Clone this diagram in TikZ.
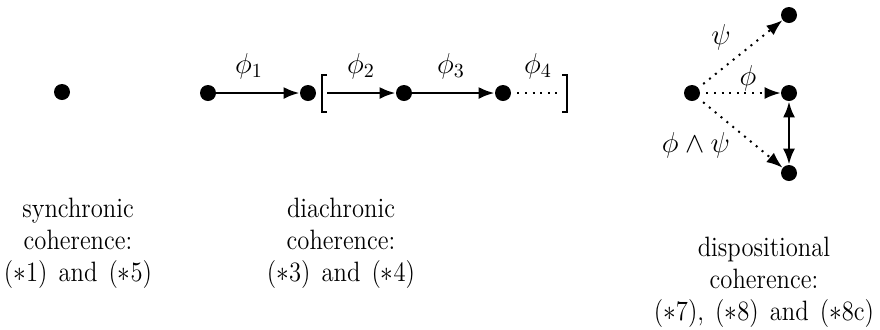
\documentclass[tikz,border=0pt]{standalone}
\usepackage{tikz}
\usetikzlibrary{arrows.meta,positioning}

\newcommand\capfont{\fontsize{14}{16}\selectfont\spaceskip=0.45em plus 0.1em\relax}

\begin{document}
\begin{tikzpicture}[
  x=0.5pt, y=-0.5pt,
  font=\fontsize{14}{16}\selectfont,
  pt/.style={circle,fill=black,inner sep=0pt,minimum size=8pt},
  arr/.style={-{Latex[length=8pt,width=6pt]},line width=1.35pt},
  dotarr/.style={-{Latex[length=8pt,width=6pt]},line width=1pt,dash pattern=on 1pt off 2.8pt,shorten <=3pt},
  dotln/.style={line width=1pt,dash pattern=on 1pt off 2.8pt,shorten <=3pt},
  brk/.style={line width=1.2pt},
  lbl/.style={inner sep=0pt},
  txt/.style={align=center,anchor=north,inner sep=0pt,xscale=0.88,transform shape,font=\capfont}
]
  \useasboundingbox (0,0) rectangle (880,329);

  % synchronic
  \node[pt] (syn) at (62,92) {};

  % diachronic chain
  \node[pt] (a) at (208,93) {};
  \node[pt] (b) at (308,93) {};
  \node[pt] (c) at (404,93) {};
  \node[pt] (d) at (503,93) {};
  \coordinate (lb) at (327,93);
  \coordinate (rb) at (562,93);
  \draw[brk] (327,75) -| (322,112) -- (327,112);
  \draw[brk] (562,75) -| (567,112) -- (562,112);

  \draw[arr] (a) -- (b);
  \draw[arr] (lb) -- (c);
  \draw[arr] (c) -- (d);
  \draw[dotln] (d) -- (rb);

  \node[lbl] (f1) at (249,66) {$\phi_1$};
  \node[lbl] (f2) at (361,66) {$\phi_2$};
  \node[lbl] (f3) at (451,66) {$\phi_3$};
  \node[lbl] (f4) at (538,66) {$\phi_4$};

  % dispositional
  \node[pt] (s) at (692,93) {};
  \node[pt] (t) at (789,15) {};
  \node[pt] (m) at (789,93) {};
  \node[pt] (bo) at (789,173) {};

  \draw[dotarr] (s) -- (t);
  \draw[dotarr] (s) -- (m);
  \draw[dotarr] (s) -- (bo);
  \draw[arr,{Latex[length=8pt,width=6pt]}-{Latex[length=8pt,width=6pt]}] (m) -- (bo);

  \node[lbl] (psi) at (721,37) {$\psi$};
  \node[lbl] (phi) at (748,78) {$\phi$};
  \node[lbl] (phipsi) at (696,145) {$\phi\wedge\psi$};

  % captions
  \node[txt] (t1) at (78,198) {synchronic\\coherence:\\($*$1) and ($*$5)};
  \node[txt] (t2) at (341,198) {diachronic\\coherence:\\($*$3) and ($*$4)};
  \node[txt] (t3) at (764,237) {dispositional\\coherence:\\($*$7), ($*$8) and ($*$8c)};
\end{tikzpicture}
\end{document}
